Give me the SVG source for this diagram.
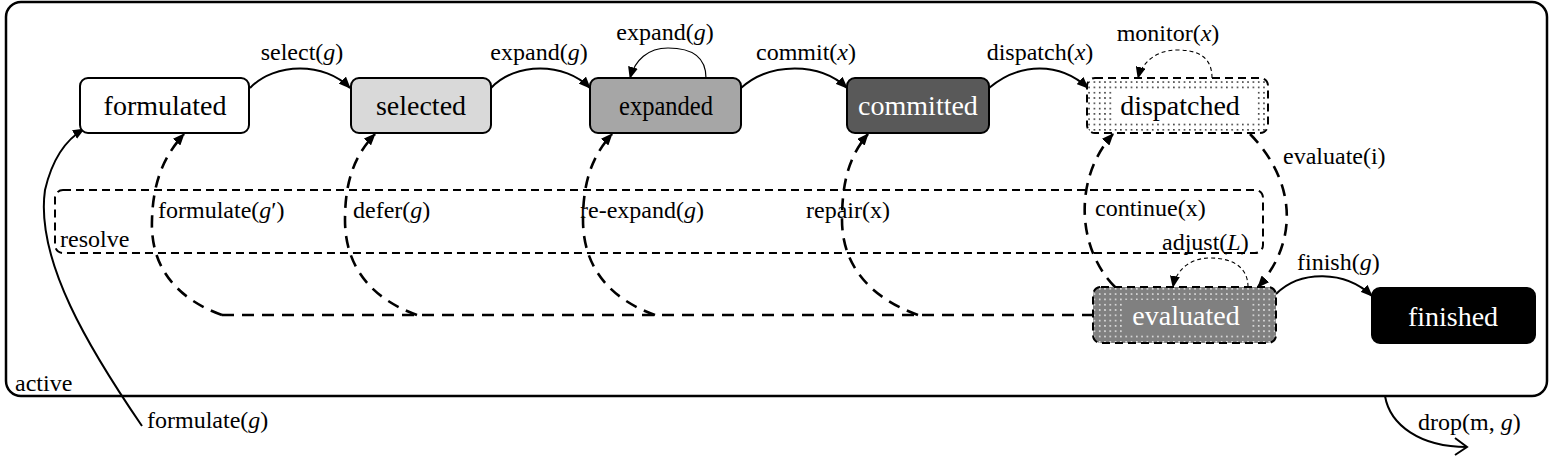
<svg xmlns="http://www.w3.org/2000/svg" width="1550" height="459" viewBox="0 0 1550 459">
<style>
.n{font-size:28px;text-anchor:middle}
.w{fill:#fff}
.l{font-size:24px}
.c{text-anchor:middle}
.i{font-style:italic}
.box{stroke:#000;stroke-width:2}
.e{fill:none;stroke:#000;stroke-width:2}
.rd{fill:none;stroke:#000;stroke-width:2.6;stroke-dasharray:12 8}
.td{fill:none;stroke:#000;stroke-width:1.1;stroke-dasharray:4 3}
.tl{fill:none;stroke:#000;stroke-width:1.2}
</style>
<defs>
<marker id="a" viewBox="0 0 12 10" refX="11" refY="5" markerWidth="12" markerHeight="10" markerUnits="userSpaceOnUse" orient="auto">
<path d="M0,0 L12,5 L0,10 Z" fill="#000"/>
</marker>
<pattern id="dk" width="5.3" height="5.3" patternUnits="userSpaceOnUse">
<rect width="5.3" height="5.3" fill="#fff"/><circle cx="2.6" cy="2.6" r="0.8" fill="#000"/>
</pattern>
<pattern id="dw" width="5.3" height="5.3" patternUnits="userSpaceOnUse">
<rect width="5.3" height="5.3" fill="#808080"/><circle cx="2.6" cy="2.6" r="0.8" fill="#fff"/>
</pattern>
</defs>
<g font-family="'Liberation Serif', 'Times New Roman', 'DejaVu Serif', serif">

<g id="active">
<rect x="6" y="2" width="1541" height="394" rx="15" fill="none" stroke="#000" stroke-width="2.5"/>
<text class="l" x="15" y="391">active</text>
</g>

<g id="resolve">
<rect x="55" y="190" width="1208" height="63" rx="8" fill="none" stroke="#000" stroke-width="2" stroke-dasharray="8 5"/>
<text class="l" x="60" y="247">resolve</text>
</g>

<g id="connectors">
<path class="e" d="M250,88 C275,62 325,62 350,88" marker-end="url(#a)"/>
<path class="e" d="M491,88 C515,62 565,62 590,88" marker-end="url(#a)"/>
<path class="tl" d="M706,78 C706,55 690,48 668,48 C648,48 635,60 630,78" marker-end="url(#a)"/>
<path class="e" d="M741,88 C770,62 820,62 847,88" marker-end="url(#a)"/>
<path class="e" d="M989,88 C1020,62 1060,62 1088,88" marker-end="url(#a)"/>
<path class="td" d="M1212,78 C1212,56 1197,50 1177,50 C1157,50 1142,62 1138,78" marker-end="url(#a)"/>
<path class="rd" d="M1250,134 C1295,180 1300,240 1258,287" marker-end="url(#a)"/>
<path class="rd" d="M1115,287 C1078,250 1072,180 1113,134" marker-end="url(#a)"/>
<path class="td" d="M1248,287 C1248,266 1231,258 1210,258 C1190,258 1176,270 1173,287" marker-end="url(#a)"/>
<path class="e" d="M1276,294 C1300,270 1345,270 1372,296" marker-end="url(#a)"/>
<path class="rd" d="M1094,315 L222,315"/>
<path class="rd" d="M222,315 C180,300 150,270 152,220 C153,180 165,155 184,134" marker-end="url(#a)"/>
<path class="rd" d="M417,315 C375,300 345,270 345,220 C345,180 355,155 375,134" marker-end="url(#a)"/>
<path class="rd" d="M655,315 C613,300 583,270 583,220 C583,180 593,155 612,134" marker-end="url(#a)"/>
<path class="rd" d="M918,315 C876,300 842,270 842,220 C842,180 850,155 868,134" marker-end="url(#a)"/>
<path class="e" d="M142,426 C90,350 35,260 45,190 C52,160 65,140 84,129" marker-end="url(#a)"/>
<path class="e" d="M1385,396 C1390,425 1420,447 1467,447"/>
<path class="e" d="M1455,438 L1467,447 L1455,455"/>

<text class="l c" x="302" y="60">select(<tspan class="i">g</tspan>)</text>
<text class="l c" x="539" y="60">expand(<tspan class="i">g</tspan>)</text>
<text class="l c" x="665" y="40">expand(<tspan class="i">g</tspan>)</text>
<text class="l c" x="806" y="60">commit(<tspan class="i">x</tspan>)</text>
<text class="l c" x="1040" y="60">dispatch(<tspan class="i">x</tspan>)</text>
<text class="l c" x="1168" y="41">monitor(<tspan class="i">x</tspan>)</text>
<text class="l" x="1283" y="164">evaluate(i)</text>
<text class="l" x="1095" y="216">continue(x)</text>
<text class="l" x="1162" y="250">adjust(<tspan class="i">L</tspan>)</text>
<text class="l" x="1297" y="270">finish(<tspan class="i">g</tspan>)</text>
<text class="l" x="158" y="218">formulate(<tspan class="i">g</tspan>′)</text>
<text class="l" x="353" y="218">defer(<tspan class="i">g</tspan>)</text>
<text class="l" x="580" y="218">re-expand(<tspan class="i">g</tspan>)</text>
<text class="l" x="806" y="218">repair(x)</text>
<text class="l" x="147" y="428">formulate(<tspan class="i">g</tspan>)</text>
<text class="l" x="1418" y="430">drop(m, <tspan class="i">g</tspan>)</text>
</g>

<g id="formulated">
<rect class="box" x="80" y="78" width="169" height="55" rx="8" fill="#fff"/>
<text class="n" x="165" y="115">formulated</text>
</g>
<g id="selected">
<rect class="box" x="351" y="78" width="140" height="55" rx="8" fill="#d9d9d9"/>
<text class="n" x="421" y="115">selected</text>
</g>
<g id="expanded">
<rect class="box" x="590" y="78" width="151" height="55" rx="8" fill="#a6a6a6"/>
<text class="n" x="666" y="115" textLength="94" lengthAdjust="spacingAndGlyphs">expanded</text>
</g>
<g id="committed">
<rect class="box" x="847" y="78" width="142" height="55" rx="8" fill="#595959"/>
<text class="n w" x="918" y="115">committed</text>
</g>
<g id="dispatched">
<rect x="1087" y="78" width="181" height="55" rx="8" fill="url(#dk)" stroke="#000" stroke-width="2" stroke-dasharray="8 5"/>
<rect x="1113" y="90" width="143" height="32" fill="#fff"/>
<text class="n" x="1180" y="115">dispatched</text>
</g>
<g id="evaluated">
<rect x="1093" y="287" width="183" height="56" rx="8" fill="url(#dw)" stroke="#000" stroke-width="2" stroke-dasharray="8 5"/>
<rect x="1122" y="300" width="128" height="33" fill="#808080"/>
<text class="n w" x="1186" y="325">evaluated</text>
</g>
<g id="finished">
<rect class="box" x="1372" y="288" width="163" height="55" rx="8" fill="#000"/>
<text class="n w" x="1453" y="326">finished</text>
</g>
</g>
</svg>
